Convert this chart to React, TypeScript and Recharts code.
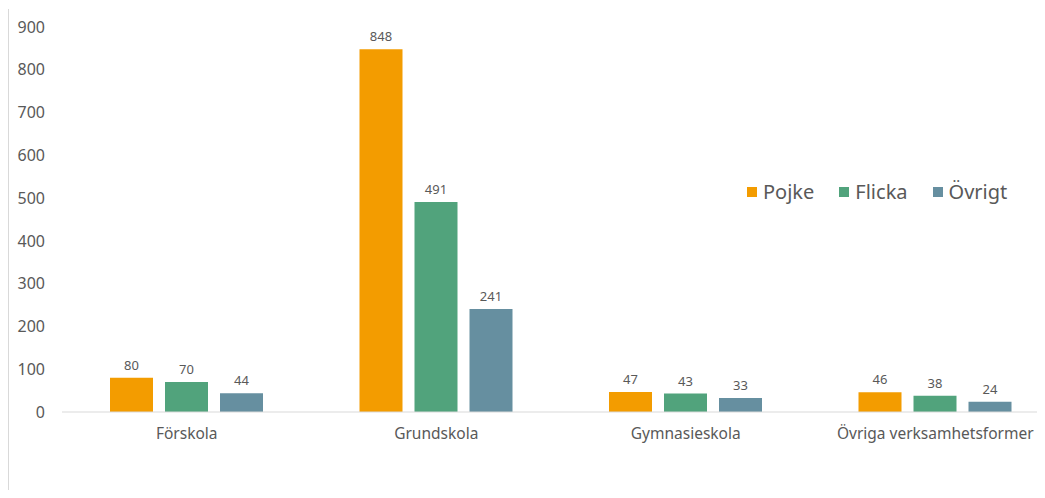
import React from "react";
import { BarChart, Bar, XAxis, YAxis, Legend, LabelList } from "recharts";

const categories = ["Förskola", "Grundskola", "Gymnasieskola", "Övriga verksamhetsformer"];
const pojke = [80, 848, 47, 46];
const flicka = [70, 491, 43, 38];
const ovrigt = [44, 241, 33, 24];
const yTicks = [0, 100, 200, 300, 400, 500, 600, 700, 800, 900];

const seriesDefs = [
  { key: "Pojke", values: pojke, color: "#F39C00" },
  { key: "Flicka", values: flicka, color: "#51A37C" },
  { key: "Övrigt", values: ovrigt, color: "#668FA0" },
];

const data = categories.map((c, i) => {
  const row: Record<string, string | number> = { name: c };
  seriesDefs.forEach((s) => {
    row[s.key] = s.values[i];
  });
  return row;
});

const FONT = "'Noto Sans', sans-serif";
const GRAY = "#595959";

const LegendContent = () => {
  return (
    <div style={{ display: "flex", alignItems: "center", fontFamily: FONT, fontSize: 20, color: GRAY, lineHeight: "28px" }}>
      {seriesDefs.map((s, i) => (
        <div key={i} style={{ display: "flex", alignItems: "center", marginRight: 25 }}>
          <span style={{ display: "inline-block", width: 10, height: 10, background: s.color, marginRight: 6 }} />
          <span>{s.key}</span>
        </div>
      ))}
    </div>
  );
};

export default function App() {
  return (
    <div style={{ position: "relative", marginLeft: -8, marginTop: -8, width: 1045, height: 490, overflow: "hidden", background: "#fff" }}>
      <div style={{ position: "absolute", left: 8, top: 9, width: 1, height: 481, background: "#D9D9D9" }} />
      <BarChart
        width={1060}
        height={490}
        data={data}
        margin={{ top: 27, right: 0, left: 0, bottom: 48 }}
        barCategoryGap={48}
        barGap={12}
      >
        <XAxis
          dataKey="name"
          tickLine={false}
          axisLine={{ stroke: "#D9D9D9" }}
          tickSize={0}
          tickMargin={16}
          height={30}
          interval={0}
          tick={{ fill: GRAY, fontSize: 15.5, fontFamily: FONT }}
        />
        <YAxis
          domain={[0, 900]}
          ticks={yTicks}
          width={62}
          axisLine={false}
          tickLine={false}
          tickSize={0}
          tickMargin={17}
          tick={{ fill: GRAY, fontSize: 16, fontFamily: FONT }}
        />
        <Legend
          layout="horizontal"
          verticalAlign="middle"
          align="center"
          wrapperStyle={{ left: 747, top: 178, width: 340 }}
          content={<LegendContent />}
        />
        {seriesDefs.map((s) => (
          <Bar key={s.key} dataKey={s.key} fill={s.color} isAnimationActive={false}>
            <LabelList
              dataKey={s.key}
              position="top"
              offset={8}
              style={{ fill: GRAY, fontSize: 13, fontFamily: FONT }}
            />
          </Bar>
        ))}
      </BarChart>
    </div>
  );
}
